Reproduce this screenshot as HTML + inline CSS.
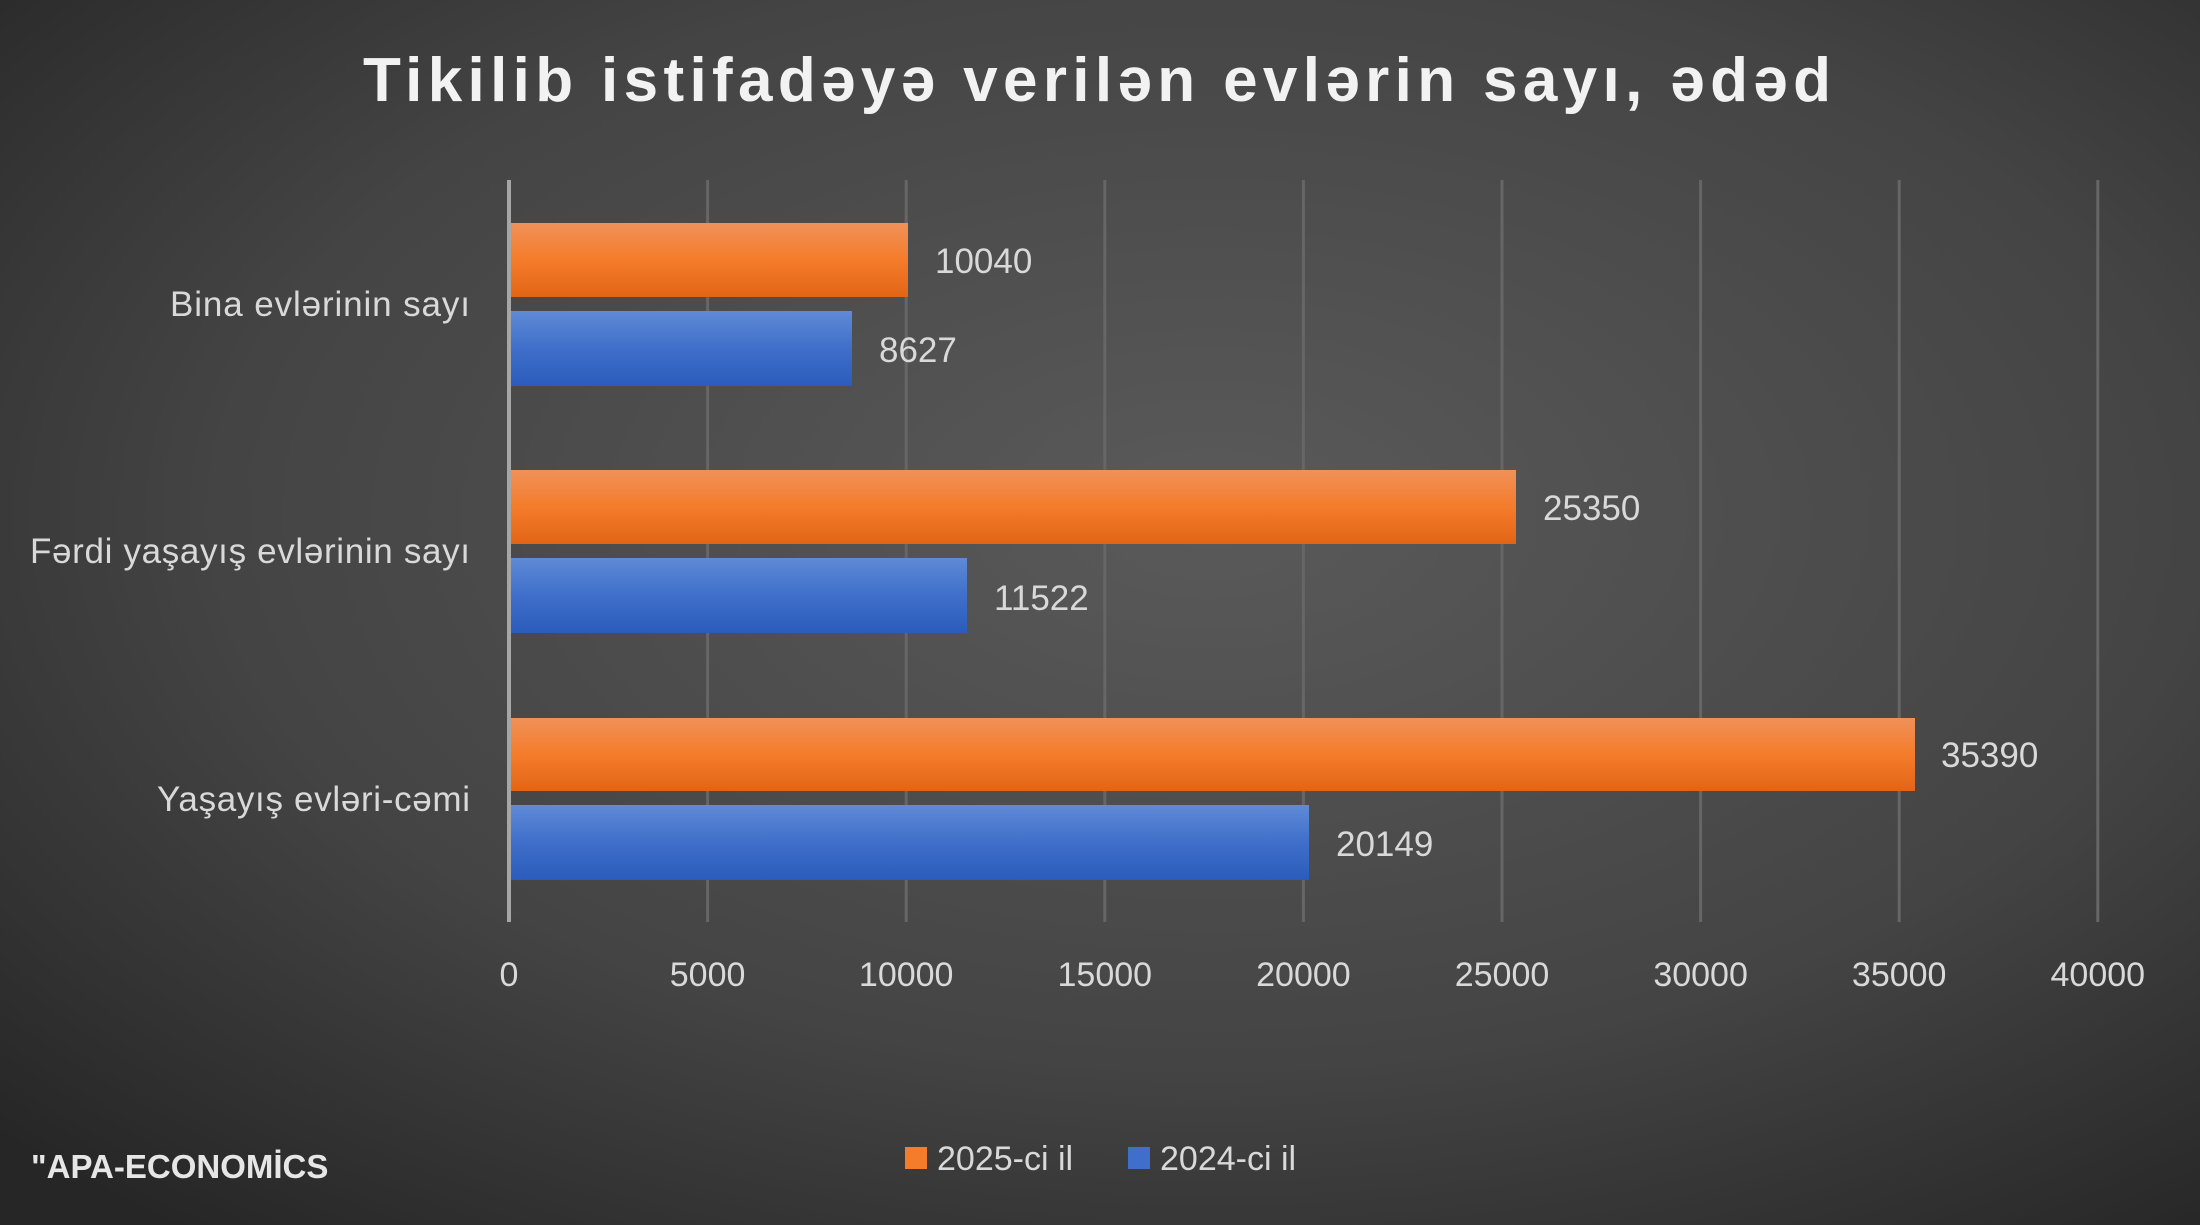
<!DOCTYPE html>
<html><head><meta charset="utf-8"><style>
html,body{margin:0;padding:0;width:2200px;height:1225px;overflow:hidden;}
</style></head><body>
<svg width="2200" height="1225" viewBox="0 0 2200 1225" xmlns="http://www.w3.org/2000/svg" font-family="'Liberation Sans', sans-serif">
<defs>
<radialGradient id="bg" cx="0.55" cy="0.42" r="0.75">
<stop offset="0" stop-color="#5a5a5a"/><stop offset="0.6" stop-color="#444"/><stop offset="1" stop-color="#262626"/>
</radialGradient>
<linearGradient id="or" x1="0" y1="0" x2="0" y2="1">
<stop offset="0" stop-color="#f0915a"/><stop offset="0.5" stop-color="#f47c2a"/><stop offset="1" stop-color="#e26516"/>
</linearGradient>
<linearGradient id="bl" x1="0" y1="0" x2="0" y2="1">
<stop offset="0" stop-color="#5f8ad6"/><stop offset="0.5" stop-color="#3f6fca"/><stop offset="1" stop-color="#2c5cbb"/>
</linearGradient>
</defs>
<rect width="2200" height="1225" fill="url(#bg)"/>
<text x="1097" y="101" text-anchor="middle" font-size="62" font-weight="bold" fill="#f2f2f2" textLength="1468" lengthAdjust="spacing">Tikilib istifadəyə verilən evlərin sayı, ədəd</text>
<g stroke="#666" stroke-width="3">
<line x1="707.6" y1="180" x2="707.6" y2="922"/><line x1="906.2" y1="180" x2="906.2" y2="922"/>
<line x1="1104.8" y1="180" x2="1104.8" y2="922"/><line x1="1303.4" y1="180" x2="1303.4" y2="922"/>
<line x1="1502" y1="180" x2="1502" y2="922"/><line x1="1700.6" y1="180" x2="1700.6" y2="922"/>
<line x1="1899.2" y1="180" x2="1899.2" y2="922"/><line x1="2097.8" y1="180" x2="2097.8" y2="922"/>
</g>
<line x1="509" y1="180" x2="509" y2="922" stroke="#a6a6a6" stroke-width="4"/>
<g>
<rect x="511" y="223" width="397" height="74" fill="url(#or)"/>
<rect x="511" y="311" width="341" height="75" fill="url(#bl)"/>
<rect x="511" y="470" width="1005" height="74" fill="url(#or)"/>
<rect x="511" y="558" width="456" height="75" fill="url(#bl)"/>
<rect x="511" y="718" width="1404" height="73" fill="url(#or)"/>
<rect x="511" y="805" width="798" height="75" fill="url(#bl)"/>
</g>
<g font-size="35" fill="#d9d9d9">
<text x="935" y="273">10040</text>
<text x="879" y="362">8627</text>
<text x="1543" y="520">25350</text>
<text x="994" y="610">11522</text>
<text x="1941" y="767">35390</text>
<text x="1336" y="856">20149</text>
</g>
<g font-size="35" fill="#d9d9d9" text-anchor="end">
<text x="470" y="316" textLength="300" lengthAdjust="spacing">Bina evlərinin sayı</text>
<text x="470" y="563" textLength="440" lengthAdjust="spacing">Fərdi yaşayış evlərinin sayı</text>
<text x="470" y="811" textLength="313" lengthAdjust="spacing">Yaşayış evləri-cəmi</text>
</g>
<g font-size="34" fill="#d9d9d9" text-anchor="middle">
<text x="509" y="986">0</text><text x="707.6" y="986">5000</text><text x="906.2" y="986">10000</text>
<text x="1104.8" y="986">15000</text><text x="1303.4" y="986">20000</text><text x="1502" y="986">25000</text>
<text x="1700.6" y="986">30000</text><text x="1899.2" y="986">35000</text><text x="2097.8" y="986">40000</text>
</g>
<rect x="905" y="1147" width="22" height="22" fill="#f47c2a"/>
<text x="937" y="1170" font-size="34" fill="#d9d9d9">2025-ci il</text>
<rect x="1128" y="1147" width="22" height="22" fill="#3f6fca"/>
<text x="1160" y="1170" font-size="34" fill="#d9d9d9">2024-ci il</text>
<text x="31" y="1178" font-size="33" font-weight="bold" fill="#e6e6e6">"APA-ECONOMİCS</text>
</svg>
</body></html>
